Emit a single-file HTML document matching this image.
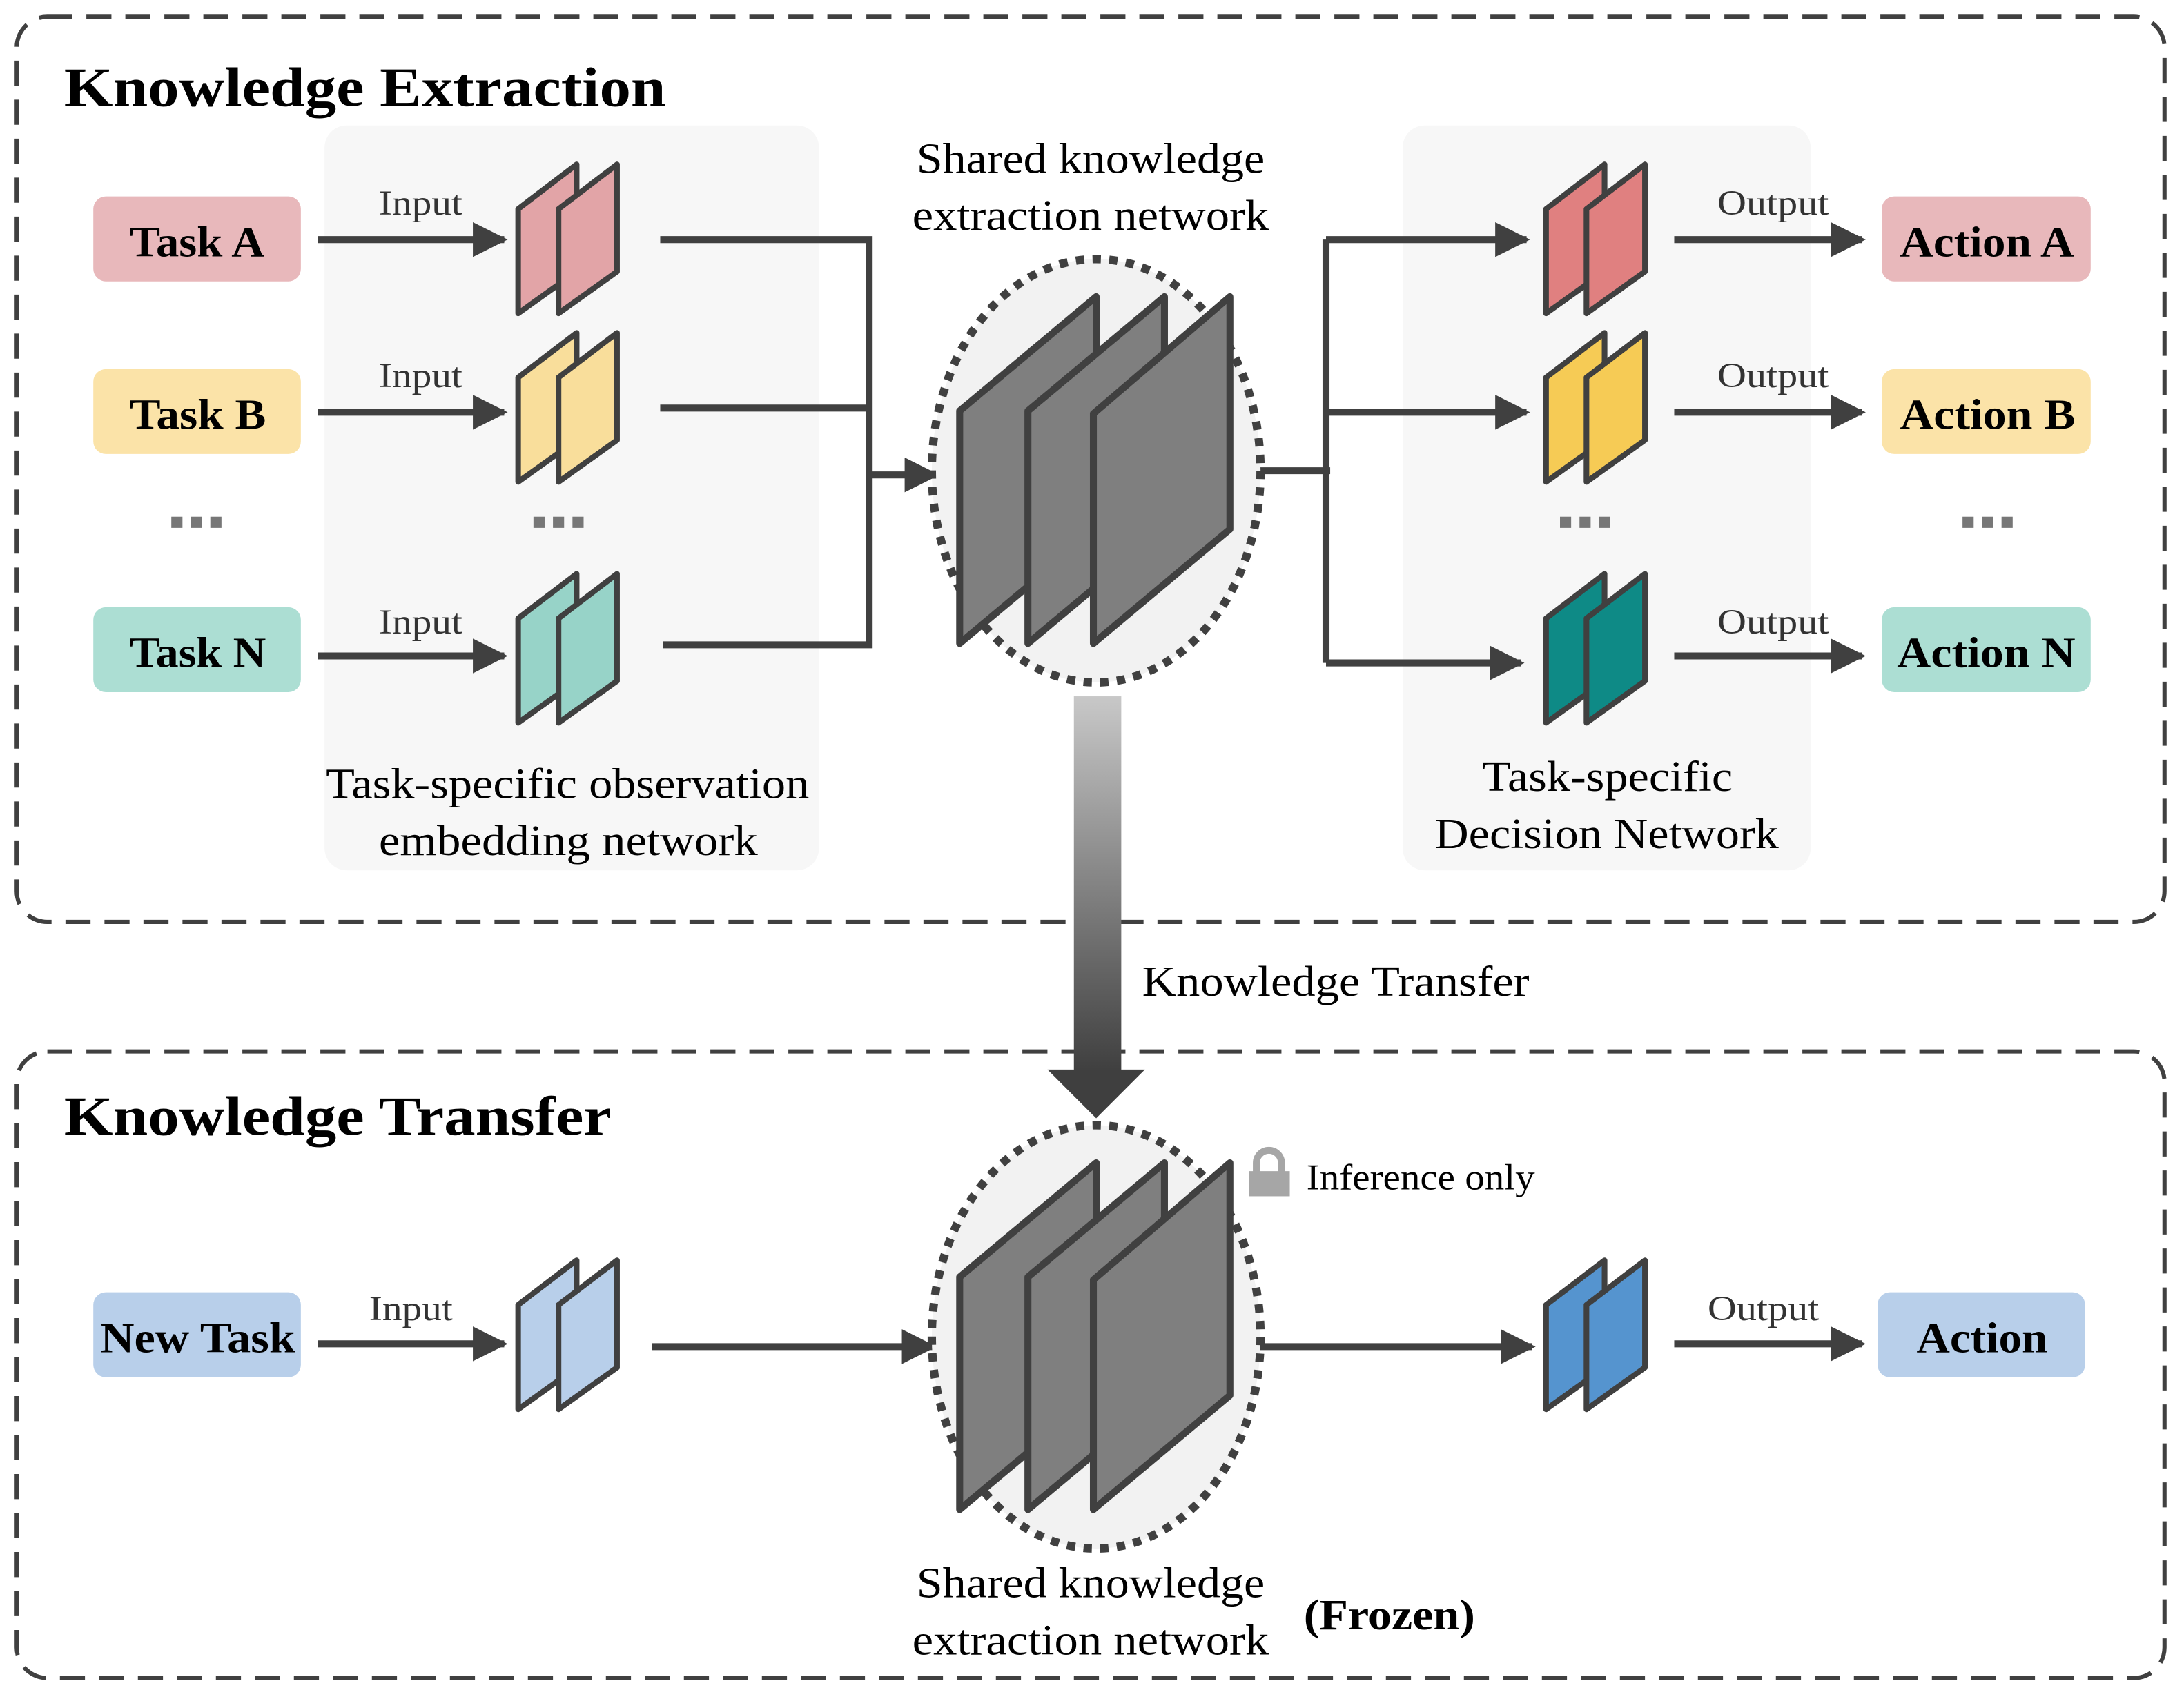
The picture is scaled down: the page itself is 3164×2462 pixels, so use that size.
<!DOCTYPE html>
<html><head><meta charset="utf-8"><style>
html,body{margin:0;padding:0;background:#fff}
svg{display:block}
text{font-family:"Liberation Serif","Times New Roman",serif}
</style></head><body>
<svg width="3164" height="2462" viewBox="0 0 1568 1220" xmlns="http://www.w3.org/2000/svg" font-family="Liberation Serif, serif">
<defs>
<linearGradient id="g" x1="0" y1="0" x2="0" y2="1"><stop offset="0" stop-color="#c8c8c8"/><stop offset="1" stop-color="#3f3f3f"/></linearGradient>
<marker id="a" viewBox="0 0 10 10" refX="9" refY="5" markerWidth="5" markerHeight="5" orient="auto" markerUnits="strokeWidth"><path d="M0,0 L10,5 L0,10 z" fill="#404040"/></marker>
</defs>
<rect x="12" y="12" width="1542" height="650" rx="22" fill="none" stroke="#404040" stroke-width="3" stroke-dasharray="18,10"/>
<rect x="12" y="755" width="1542" height="450" rx="22" fill="none" stroke="#404040" stroke-width="3" stroke-dasharray="18,10"/>
<text x="46" y="76" font-size="40" font-weight="bold" textLength="432" lengthAdjust="spacingAndGlyphs">Knowledge Extraction</text>
<text x="46" y="815" font-size="40" font-weight="bold" textLength="393" lengthAdjust="spacingAndGlyphs">Knowledge Transfer</text>
<rect x="233" y="90" width="355" height="535" rx="16" fill="#f7f7f7"/>
<rect x="1007" y="90" width="293" height="535" rx="16" fill="#f7f7f7"/>
<g font-size="31" lengthAdjust="spacingAndGlyphs">
<text x="234" y="573" textLength="347" lengthAdjust="spacingAndGlyphs">Task-specific observation</text>
<text x="272" y="614" textLength="272" lengthAdjust="spacingAndGlyphs">embedding network</text>
<text x="1064" y="568" textLength="180" lengthAdjust="spacingAndGlyphs">Task-specific</text>
<text x="1030" y="609" textLength="247" lengthAdjust="spacingAndGlyphs">Decision Network</text>
<text x="658" y="124" textLength="250" lengthAdjust="spacingAndGlyphs">Shared knowledge</text>
<text x="655" y="165" textLength="256" lengthAdjust="spacingAndGlyphs">extraction network</text>
<text x="658" y="1147" textLength="250" lengthAdjust="spacingAndGlyphs">Shared knowledge</text>
<text x="655" y="1188" textLength="256" lengthAdjust="spacingAndGlyphs">extraction network</text>
<text x="820" y="715" textLength="278" lengthAdjust="spacingAndGlyphs">Knowledge Transfer</text>
</g>
<rect x="67" y="141" width="149" height="61" rx="9" fill="#e8b8bb"/>
<rect x="67" y="265" width="149" height="61" rx="9" fill="#fbe3a8"/>
<rect x="67" y="436" width="149" height="61" rx="9" fill="#acded3"/>
<rect x="1351" y="141" width="150" height="61" rx="9" fill="#e8b8bb"/>
<rect x="1351" y="265" width="150" height="61" rx="9" fill="#fbe3a8"/>
<rect x="1351" y="436" width="150" height="61" rx="9" fill="#acded3"/>
<rect x="67" y="928" width="149" height="61" rx="9" fill="#b8cfea"/>
<rect x="1348" y="928" width="149" height="61" rx="9" fill="#b8cfea"/>
<g font-weight="bold" font-size="31">
<text x="93" y="184" textLength="97" lengthAdjust="spacingAndGlyphs">Task A</text>
<text x="93" y="308" textLength="98" lengthAdjust="spacingAndGlyphs">Task B</text>
<text x="93" y="479" textLength="98" lengthAdjust="spacingAndGlyphs">Task N</text>
<text x="1364" y="184" textLength="125" lengthAdjust="spacingAndGlyphs">Action A</text>
<text x="1364" y="308" textLength="126" lengthAdjust="spacingAndGlyphs">Action B</text>
<text x="1362" y="479" textLength="128" lengthAdjust="spacingAndGlyphs">Action N</text>
<text x="72" y="971" textLength="140" lengthAdjust="spacingAndGlyphs">New Task</text>
<text x="1376" y="971" textLength="94" lengthAdjust="spacingAndGlyphs">Action</text>
<text x="936" y="1170" textLength="123" lengthAdjust="spacingAndGlyphs">(Frozen)</text>
</g>
<g fill="#777"><rect x="123" y="371" width="8" height="8"/><rect x="137" y="371" width="8" height="8"/><rect x="151" y="371" width="8" height="8"/>
<rect x="383" y="371" width="8" height="8"/><rect x="397" y="371" width="8" height="8"/><rect x="411" y="371" width="8" height="8"/>
<rect x="1120" y="371" width="8" height="8"/><rect x="1134" y="371" width="8" height="8"/><rect x="1148" y="371" width="8" height="8"/>
<rect x="1409" y="371" width="8" height="8"/><rect x="1423" y="371" width="8" height="8"/><rect x="1437" y="371" width="8" height="8"/></g>
<g stroke="#404040" stroke-width="5" fill="none" marker-end="url(#a)">
<line x1="228" y1="172" x2="362" y2="172"/><line x1="228" y1="296" x2="362" y2="296"/><line x1="228" y1="471" x2="362" y2="471"/>
<line x1="1202" y1="172" x2="1337" y2="172"/><line x1="1202" y1="296" x2="1337" y2="296"/><line x1="1202" y1="471" x2="1337" y2="471"/>
<line x1="228" y1="965" x2="362" y2="965"/><line x1="1202" y1="965" x2="1337" y2="965"/>
<line x1="622" y1="341" x2="672" y2="341"/>
<line x1="952" y1="172" x2="1096" y2="172"/><line x1="952" y1="296" x2="1096" y2="296"/><line x1="952" y1="476" x2="1092" y2="476"/>
<line x1="468" y1="967" x2="670" y2="967"/><line x1="900" y1="967" x2="1100" y2="967"/>
</g>
<g stroke="#404040" stroke-width="5" fill="none">
<polyline points="474,172 624,172 624,463 476,463"/><line x1="474" y1="293" x2="624" y2="293"/>
<polyline points="952,172 952,476"/><line x1="900" y1="338" x2="955" y2="338"/>
</g>
<g font-size="25" fill="#333">
<text x="272" y="154" textLength="60" lengthAdjust="spacingAndGlyphs">Input</text>
<text x="272" y="278" textLength="60" lengthAdjust="spacingAndGlyphs">Input</text>
<text x="272" y="455" textLength="60" lengthAdjust="spacingAndGlyphs">Input</text>
<text x="265" y="948" textLength="60" lengthAdjust="spacingAndGlyphs">Input</text>
<text x="1233" y="154" textLength="80" lengthAdjust="spacingAndGlyphs">Output</text>
<text x="1233" y="278" textLength="80" lengthAdjust="spacingAndGlyphs">Output</text>
<text x="1233" y="455" textLength="80" lengthAdjust="spacingAndGlyphs">Output</text>
<text x="1226" y="948" textLength="80" lengthAdjust="spacingAndGlyphs">Output</text>
</g>
<g stroke="#404040" stroke-width="4" stroke-linejoin="round">
<g fill="#e2a4a7"><path d="M372,150 L414,118 L414,195 L372,225Z"/><path d="M401,150 L443,118 L443,195 L401,225Z"/></g>
<g fill="#f9de9b" transform="translate(0,121)"><path d="M372,150 L414,118 L414,195 L372,225Z"/><path d="M401,150 L443,118 L443,195 L401,225Z"/></g>
<g fill="#97d3c8" transform="translate(0,294)"><path d="M372,150 L414,118 L414,195 L372,225Z"/><path d="M401,150 L443,118 L443,195 L401,225Z"/></g>
<g fill="#e08080" transform="translate(738,0)"><path d="M372,150 L414,118 L414,195 L372,225Z"/><path d="M401,150 L443,118 L443,195 L401,225Z"/></g>
<g fill="#f6cb55" transform="translate(738,121)"><path d="M372,150 L414,118 L414,195 L372,225Z"/><path d="M401,150 L443,118 L443,195 L401,225Z"/></g>
<g fill="#0e8a86" transform="translate(738,294)"><path d="M372,150 L414,118 L414,195 L372,225Z"/><path d="M401,150 L443,118 L443,195 L401,225Z"/></g>
<g fill="#b8cfea" transform="translate(0,787)"><path d="M372,150 L414,118 L414,195 L372,225Z"/><path d="M401,150 L443,118 L443,195 L401,225Z"/></g>
<g fill="#5594cf" transform="translate(738,787)"><path d="M372,150 L414,118 L414,195 L372,225Z"/><path d="M401,150 L443,118 L443,195 L401,225Z"/></g>
</g>
<g>
<ellipse cx="787" cy="338" rx="118" ry="152" fill="#f2f2f2" stroke="#404040" stroke-width="6" stroke-dasharray="6,6"/>
<g fill="#7f7f7f" stroke="#404040" stroke-width="5" stroke-linejoin="round">
<path d="M689,295 L787,213 L787,380 L689,462Z"/><path d="M738,295 L836,213 L836,380 L738,462Z"/><path d="M785,297 L883,213 L883,380 L785,462Z"/></g>
</g>
<g transform="translate(0,622)">
<ellipse cx="787" cy="338" rx="118" ry="152" fill="#f2f2f2" stroke="#404040" stroke-width="6" stroke-dasharray="6,6"/>
<g fill="#7f7f7f" stroke="#404040" stroke-width="5" stroke-linejoin="round">
<path d="M689,295 L787,213 L787,380 L689,462Z"/><path d="M738,295 L836,213 L836,380 L738,462Z"/><path d="M785,297 L883,213 L883,380 L785,462Z"/></g>
</g>
<rect x="771" y="500" width="34" height="270" fill="url(#g)"/>
<path d="M752,768 L822,768 L787,803Z" fill="#3f3f3f"/>
<path d="M902,842 L902,835 A9,9 0 0 1 920,835 L920,842" fill="none" stroke="#a6a6a6" stroke-width="5"/>
<rect x="897" y="841" width="29" height="18" fill="#a6a6a6"/>
<text x="938" y="854" font-size="26" textLength="164" lengthAdjust="spacingAndGlyphs">Inference only</text>
</svg>
</body></html>
